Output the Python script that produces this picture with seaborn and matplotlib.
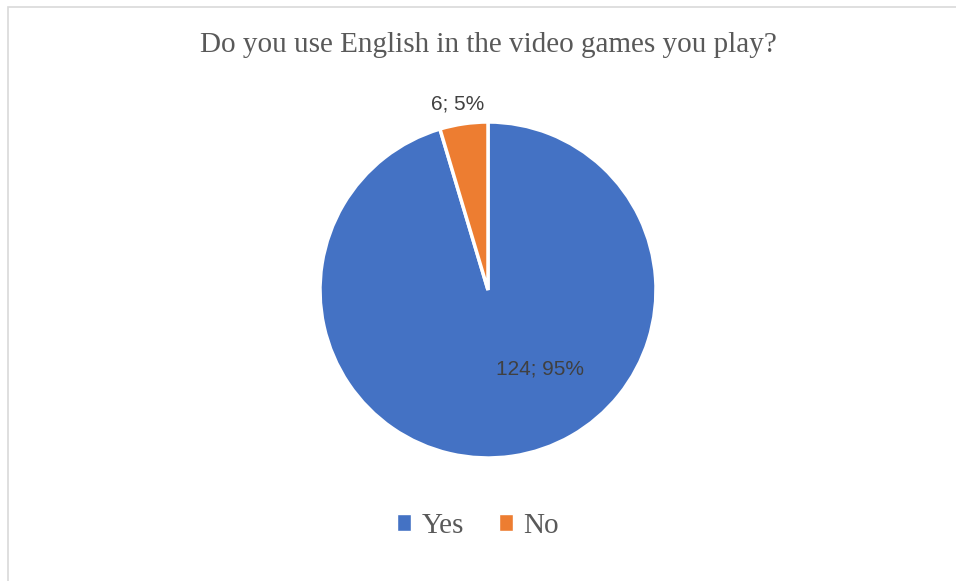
import matplotlib
matplotlib.use("Agg")
import matplotlib.pyplot as plt
import seaborn as sns
from matplotlib.patches import Rectangle

# data
answers = ["Yes", "No"]
counts = [124, 6]
colors = ["#4472C4", "#ED7D31"]

sns.set_theme(style="white")
plt.rcParams["font.family"] = ["Liberation Serif", "DejaVu Serif"]

fig = plt.figure(figsize=(9.56, 5.81), dpi=100)

# light frame like the Excel chart area
fig.patches.append(Rectangle((7.5 / 956, -0.01), 1.02, (581 - 7) / 581 + 0.01,
                             transform=fig.transFigure, fill=False,
                             edgecolor="#D9D9D9", linewidth=1.2))

ax = fig.add_axes([(488 - 168) / 956, (581 - 458) / 581, 336 / 956, 336 / 581])
total = sum(counts)
wedges, _ = ax.pie(counts, colors=colors, startangle=90, counterclock=False,
                   wedgeprops=dict(edgecolor="white", linewidth=2.5))
ax.set_xlim(-1, 1)
ax.set_ylim(-1, 1)
ax.set_aspect("auto")
ax.axis("off")

# data labels "value; pct"
label_pos = [(0.31, -0.47), (-0.18, 1.11)]
for c, (x, y) in zip(counts, label_pos):
    ax.text(x, y, f"{c}; {round(c / total * 100)}%", ha="center", va="center",
            fontsize=15, color="#404040", family=["Liberation Sans", "DejaVu Sans"],
            clip_on=False)

fig.text(488 / 956, 1 - 45 / 581, "Do you use English in the video games you play?",
         ha="center", va="center", fontsize=21, color="#595959")

handles = [Rectangle((0, 0), 1, 1, facecolor=col) for col in colors]
leg = fig.legend(handles, answers, loc="center", bbox_to_anchor=(478 / 956, 1 - 526 / 581),
                 ncol=2, frameon=False, fontsize=21, handlelength=0.5, handleheight=0.5,
                 handletextpad=0.35, columnspacing=1.2)
for t in leg.get_texts():
    t.set_color("#595959")

fig.savefig("out.png", dpi=100)
